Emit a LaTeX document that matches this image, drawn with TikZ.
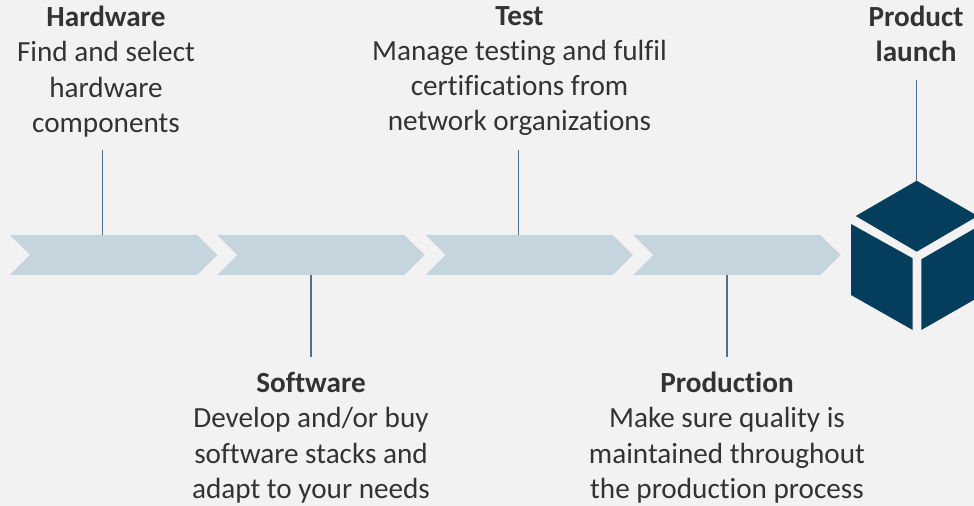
\documentclass[tikz,border=0pt]{standalone}
\usepackage{fontspec}
\setmainfont{Carlito}[Ligatures=NoCommon]
\definecolor{bgcol}{HTML}{F2F2F2}
\definecolor{chevcol}{HTML}{C5D5DE}
\definecolor{linecol}{HTML}{4B7290}
\definecolor{cubecol}{HTML}{053D5C}
\definecolor{txtcol}{HTML}{333333}
\begin{document}
\begin{tikzpicture}[x=1bp,y=-1bp,
  chevron/.style={fill=chevcol},
  connector/.style={draw=linecol, line width=1.5bp},
  cubeface/.style={fill=cubecol},
  lbl/.style={align=center, text=txtcol, inner sep=0pt, outer sep=0pt, font=\fontsize{29.3}{35.3}\selectfont}]
\useasboundingbox[fill=bgcol] (0,0) rectangle (974,506);
% chevrons
\foreach \x/\n in {10/c1, 217.3/c2, 425.7/c3, 633.3/c4}{
  \fill[chevron] (\x,235) -- ++(187,0) -- ++(20.3,20) -- ++(-20.3,20) -- ++(-187,0) -- ++(20,-20) -- cycle;
}
% cube
\coordinate (cubetop) at (916.7,180.7);
\fill[cubeface] (cubetop) -- (855.7,216) -- (916.7,251.7) -- (977.7,216) -- cycle;
\fill[cubeface] (851,224) -- (912.7,258.3) -- (912.7,330) -- (851,295) -- cycle;
\fill[cubeface] (921.3,259.3) -- (982.4,224) -- (982.4,295) -- (921.3,330) -- cycle;
% labels
\node[lbl, anchor=north] (hw) at (106,6.3) {\textbf{Hardware}\\Find and select\\hardware\\components};
\node[lbl, anchor=north] (test) at (519.5,6.3) {\textbf{Test}\\Manage testing and fulfil\\certifications from\\network organizations};
\node[lbl, anchor=north] (launch) at (916,6.3) {\textbf{Product}\\\textbf{launch}};
\node[lbl, anchor=south] (sw) at (311,503) {\textbf{Software}\\Develop and/or buy\\software stacks and\\adapt to your needs};
\node[lbl, anchor=south] (prod) at (727,503) {\textbf{Production}\\Make sure quality is\\maintained throughout\\the production process};
% connectors
\coordinate (hwend) at (102.7,150.5); \coordinate (c1top) at (102.7,235);
\coordinate (swend) at (311,357); \coordinate (c2bot) at (311,275);
\coordinate (testend) at (518.7,150.5); \coordinate (c3top) at (518.7,235);
\coordinate (prodend) at (727,357); \coordinate (c4bot) at (727,275);
\coordinate (launchend) at (916.7,80);
\draw[connector] (hwend) -- (c1top);
\draw[connector] (c2bot) -- (swend);
\draw[connector] (testend) -- (c3top);
\draw[connector] (c4bot) -- (prodend);
\draw[connector] (launchend) -- (cubetop);
\end{tikzpicture}
\end{document}
